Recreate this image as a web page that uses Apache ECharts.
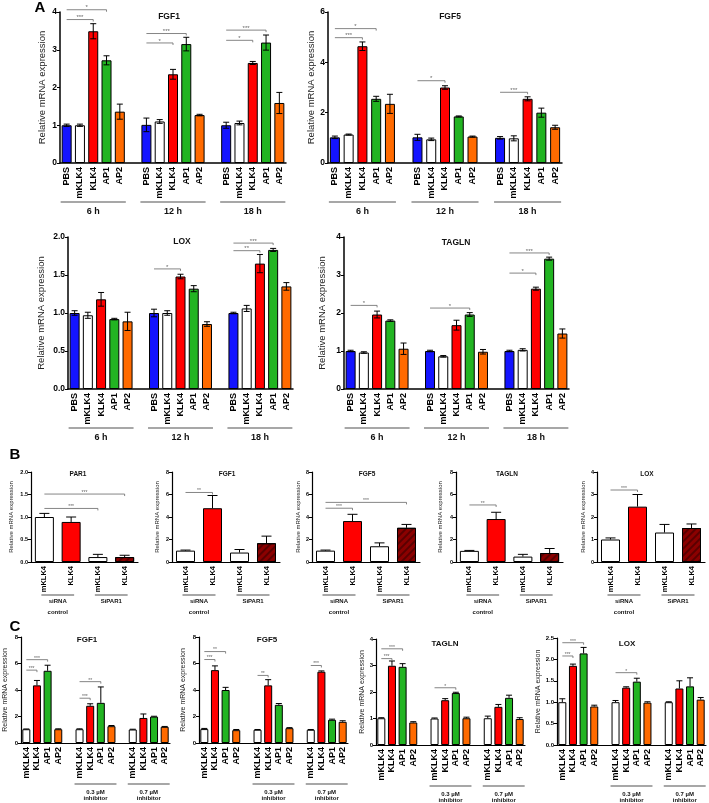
<!DOCTYPE html>
<html><head><meta charset="utf-8">
<script src="https://cdn.jsdelivr.net/npm/echarts@6/dist/echarts.min.js"></script>
<style>html,body{margin:0;padding:0;background:#fff}#c{width:709px;height:803px}</style>
</head><body><div id="c"></div>
<script>
// ---------------- DATA ----------------
const treatA = ['PBS','mKLK4','KLK4','AP1','AP2'];
const timeA = ['6 h','12 h','18 h'];
const colorsA = ['#1414ff','#ffffff','#ff0000','#22b422','#ff6a00'];

const aFGF1    = [1.00,1.00,3.49,2.72,1.36, 1.01,1.10,2.35,3.15,1.27, 1.00,1.06,2.65,3.19,1.59];
const aFGF1Err = [0.03,0.03,0.20,0.12,0.20, 0.18,0.05,0.13,0.18,0.02, 0.08,0.05,0.04,0.20,0.28];
const aFGF5    = [1.02,1.13,4.64,2.55,2.35, 1.02,0.94,3.00,1.85,1.05, 1.00,0.98,2.55,2.00,1.42];
const aFGF5Err = [0.05,0.02,0.17,0.10,0.38, 0.12,0.05,0.07,0.02,0.02, 0.05,0.10,0.08,0.18,0.08];
const aLOX     = [1.00,0.97,1.18,0.92,0.89, 1.00,1.00,1.48,1.32,0.855, 1.00,1.06,1.65,1.83,1.35];
const aLOXErr  = [0.03,0.04,0.09,0.01,0.12, 0.05,0.03,0.03,0.04,0.03, 0.01,0.04,0.12,0.02,0.05];
const aTAGLN   = [1.00,0.96,1.96,1.80,1.06, 1.00,0.86,1.68,1.96,0.98, 1.00,1.03,2.64,3.43,1.46];
const aTAGLNErr= [0.02,0.02,0.09,0.02,0.15, 0.02,0.02,0.13,0.05,0.06, 0.02,0.03,0.04,0.04,0.12];
// significance brackets: [fromIndex, toIndex, height, mark]
const aFGF1Sig  = [[0,3,4.06,'*'],[0,2,3.80,'***'],[5,8,3.43,'***'],[5,7,3.18,'*'],[10,13,3.52,'***'],[10,12,3.25,'*']];
const aFGF5Sig  = [[0,3,5.34,'*'],[0,2,4.98,'***'],[5,7,3.27,'*'],[10,12,2.81,'***']];
const aLOXSig   = [[5,7,1.58,'*'],[10,13,1.92,'***'],[10,12,1.82,'**']];
const aTAGLNSig = [[0,2,2.20,'*'],[5,8,2.13,'*'],[10,13,3.58,'***'],[10,12,3.05,'*']];

const treatB = ['mKLK4','KLK4'];
const groupB = [['siRNA','control'],['SiPAR1']];
const colorsB = ['#ffffff','#ff0000','#ffffff','#8b0000'];
const bPAR1    = [1.00,0.89,0.11,0.11];
const bPAR1Err = [0.08,0.11,0.06,0.04];
const bFGF1    = [1.01,4.78,0.84,1.67];
const bFGF1Err = [0.05,1.13,0.27,0.63];
const bFGF5    = [1.01,3.64,1.40,3.04];
const bFGF5Err = [0.05,0.60,0.30,0.30];
const bTAGLN   = [0.99,3.82,0.48,0.80];
const bTAGLNErr= [0.04,0.60,0.20,0.40];
const bLOX     = [1.00,2.46,1.31,1.51];
const bLOXErr  = [0.07,0.54,0.36,0.18];
const bPAR1Sig  = [[0,3,1.51,'***'],[0,2,1.19,'***']];
const bFGF1Sig  = [[0,1,6.18,'**']];
const bFGF5Sig  = [[0,3,5.30,'***'],[0,1,4.78,'***']];
const bTAGLNSig = [[0,1,5.07,'**']];
const bLOXSig   = [[0,1,3.20,'***']];

const treatC = ['mKLK4','KLK4','AP1','AP2'];
const groupC = [null,['0.3 µM','inhibitor'],['0.7 µM','inhibitor']];
const colorsC = ['#ffffff','#ff0000','#22b422','#ff6a00'];
const cFGF1    = [1.04,4.35,5.45,1.04, 1.04,2.81,3.03,1.27, 1.02,1.89,1.99,1.22];
const cFGF1Err = [0.02,0.37,0.42,0.03, 0.03,0.15,1.20,0.05, 0.02,0.30,0.03,0.03];
const cFGF5    = [1.05,5.50,4.00,0.97, 1.00,4.35,2.88,1.12, 1.00,5.38,1.75,1.60];
const cFGF5Err = [0.05,0.32,0.20,0.05, 0.02,0.43,0.10,0.04, 0.02,0.06,0.05,0.08];
const cTAGLN   = [1.01,2.99,2.95,0.85, 1.00,1.69,1.96,1.01, 1.01,1.44,1.78,0.98];
const cTAGLNErr= [0.02,0.18,0.12,0.03, 0.02,0.06,0.03,0.04, 0.08,0.09,0.10,0.05];
const cLOX     = [1.00,1.85,2.14,0.90, 1.00,1.34,1.48,0.99, 1.00,1.32,1.37,1.06];
const cLOXErr  = [0.08,0.04,0.14,0.03, 0.04,0.02,0.08,0.02, 0.01,0.18,0.20,0.05];
const cFGF1Sig  = [[0,2,6.29,'***'],[0,1,5.50,'***'],[4,6,4.63,'**'],[4,5,3.38,'***']];
const cFGF5Sig  = [[0,2,6.90,'**'],[0,1,6.30,'***'],[4,5,5.10,'**'],[8,9,5.85,'***']];
const cTAGLNSig = [[0,2,3.63,'***'],[0,1,3.26,'***'],[4,6,2.16,'*']];
const cLOXSig   = [[0,2,2.39,'***'],[0,1,2.08,'***'],[4,6,1.69,'*']];

const yLabel = 'Relative mRNA expression';

// ---------------- LAYOUT ----------------
const FF = 'Liberation Sans, Arial, sans-serif';
const styleA = {tick:8.5, xl:9, title:8.5, yn:9.5, grp:9, bw:10, axW:1.5, cap:3, both:true, sig:6, gOff:[39,49], gLH:11, ext:6, spacer:true};
const styleB = {tick:5.5, xl:7.5, title:6.5, yn:6, grp:6, bw:19, axW:1.2, cap:5, both:false, sig:5, gOff:[33,39], gLH:11, ext:3, spacer:false};
const styleC = {tick:6, xl:9, title:8, yn:7, grp:6, bw:8, axW:1.2, cap:3, both:false, sig:5, gOff:[41,49], gLH:6.5, ext:5, spacer:true};

const panels = [
 {st:styleA, vals:aFGF1, errs:aFGF1Err, sig:aFGF1Sig, treat:treatA, groups:timeA.map(t=>[t]), colors:colorsA, title:'FGF1', tpos:[169,17], box:[60,12,286,163], max:4, iv:1, dec:0, gap:13},
 {st:styleA, vals:aFGF5, errs:aFGF5Err, sig:aFGF5Sig, treat:treatA, groups:timeA.map(t=>[t]), colors:colorsA, title:'FGF5', tpos:[450,17], box:[328,12,562,163], max:6, iv:2, dec:0, gap:8},
 {st:styleA, vals:aLOX, errs:aLOXErr, sig:aLOXSig, treat:treatA, groups:timeA.map(t=>[t]), colors:colorsA, title:'LOX', tpos:[182,242], box:[68,237,293,389], max:2, iv:0.5, dec:1, gap:22},
 {st:styleA, vals:aTAGLN, errs:aTAGLNErr, sig:aTAGLNSig, treat:treatA, groups:timeA.map(t=>[t]), colors:colorsA, title:'TAGLN', tpos:[456,243], box:[344,237,569,389], max:4, iv:1, dec:0, gap:17},

 {st:styleB, vals:bPAR1, errs:bPAR1Err, sig:bPAR1Sig, treat:treatB, groups:groupB, colors:colorsB, title:'PAR1', tpos:[78,474], box:[31,472,138,562], max:2, iv:0.5, dec:1, gap:17},
 {st:styleB, vals:bFGF1, errs:bFGF1Err, sig:bFGF1Sig, treat:treatB, groups:groupB, colors:colorsB, title:'FGF1', tpos:[227,474], box:[172,472,280,562], max:8, iv:2, dec:0, gap:12},
 {st:styleB, vals:bFGF5, errs:bFGF5Err, sig:bFGF5Sig, treat:treatB, groups:groupB, colors:colorsB, title:'FGF5', tpos:[367,474], box:[312,472,420,562], max:8, iv:2, dec:0, gap:11},
 {st:styleB, vals:bTAGLN, errs:bTAGLNErr, sig:bTAGLNSig, treat:treatB, groups:groupB, colors:colorsB, title:'TAGLN', tpos:[507,474], box:[456,472,563,562], max:8, iv:2, dec:0, gap:13},
 {st:styleB, vals:bLOX, errs:bLOXErr, sig:bLOXSig, treat:treatB, groups:groupB, colors:colorsB, title:'LOX', tpos:[647,474], box:[597,472,705,562], max:4, iv:1, dec:0, gap:11},

 {st:styleC, vals:cFGF1, errs:cFGF1Err, sig:cFGF1Sig, treat:treatC, groups:groupC, colors:colorsC, title:'FGF1', tpos:[87,640], box:[21,637,170,743], max:8, iv:2, dec:0, gap:12},
 {st:styleC, vals:cFGF5, errs:cFGF5Err, sig:cFGF5Sig, treat:treatC, groups:groupC, colors:colorsC, title:'FGF5', tpos:[267,640], box:[199,637,348,743], max:8, iv:2, dec:0, gap:12},
 {st:styleC, vals:cTAGLN, errs:cTAGLNErr, sig:cTAGLNSig, treat:treatC, groups:groupC, colors:colorsC, title:'TAGLN', tpos:[445,644], box:[376,639,525,745], max:4, iv:1, dec:0, gap:10},
 {st:styleC, vals:cLOX, errs:cLOXErr, sig:cLOXSig, treat:treatC, groups:groupC, colors:colorsC, title:'LOX', tpos:[627,644], box:[557,638,706,745], max:2.5, iv:0.5, dec:1, gap:15}
];

// ---------------- BUILD ----------------
const grid=[], xAxis=[], yAxis=[], series=[], graphic=[];
function errRender(both, cap){
  return function(params, api){
    const x=api.value(0), v=api.value(1), e=api.value(2);
    const t=api.coord([x, v+e]); const b=api.coord([x, both? v-e : v]);
    const s={stroke:'#000', lineWidth:1};
    const ch=[{type:'line', shape:{x1:t[0],y1:t[1],x2:b[0],y2:b[1]}, style:s},
              {type:'line', shape:{x1:t[0]-cap,y1:t[1],x2:t[0]+cap,y2:t[1]}, style:s}];
    if(both) ch.push({type:'line', shape:{x1:b[0]-cap,y1:b[1],x2:b[0]+cap,y2:b[1]}, style:s});
    return {type:'group', children:ch};
  };
}
function sigRender(list, fs){
  return function(params, api){
    const m=list[params.dataIndex][3];
    const p1=api.coord([api.value(0), api.value(2)]), p2=api.coord([api.value(1), api.value(2)]);
    const s={stroke:'#666', lineWidth:0.8};
    return {type:'group', children:[
      {type:'line', shape:{x1:p1[0],y1:p1[1],x2:p2[0],y2:p2[1]}, style:s},
      {type:'line', shape:{x1:p2[0],y1:p2[1],x2:p2[0],y2:p2[1]+2}, style:s},
      {type:'text', x:(p1[0]+p2[0])/2, y:p1[1]+1, style:{text:m, fontSize:fs, fontFamily:FF, fill:'#666', align:'center', verticalAlign:'bottom'}}
    ]};
  };
}
function grpRender(labels, st){
  return function(params, api){
    const lab=labels[params.dataIndex];
    const a=api.coord([api.value(0),0]), b=api.coord([api.value(1),0]);
    const y0=a[1];
    const ch=[{type:'line', shape:{x1:a[0]-st.ext,y1:y0+st.gOff[0],x2:b[0]+st.ext,y2:y0+st.gOff[0]}, style:{stroke:'#8a8a8a', lineWidth:1.5}}];
    lab.forEach((t,k)=>ch.push({type:'text', x:(a[0]+b[0])/2, y:y0+st.gOff[1]+k*st.gLH,
      style:{text:t, fontSize:st.grp, fontWeight:'bold', fontFamily:FF, fill:'#111', align:'center', verticalAlign:'middle'}}));
    return {type:'group', children:ch};
  };
}

panels.forEach((p,pi)=>{
  const st=p.st, n=p.treat.length;
  const nG = p.vals.length/n;
  const cats=[]; const catOf=[];
  for(let g=0; g<nG; g++){
    if(g>0 && st.spacer) cats.push('gap'+g);
    for(let t=0;t<n;t++){ catOf.push(cats.length); cats.push(g+'|'+p.treat[t]); }
  }
  const [x0,y0,x1,y1]=p.box;
  grid.push({left:x0, top:y0, width:x1-x0, height:y1-y0, containLabel:false});
  xAxis.push({type:'category', gridIndex:pi, data:cats, boundaryGap:true,
    axisLine:{lineStyle:{color:'#000', width:st.axW}}, axisTick:{show:false},
    axisLabel:{interval:0, rotate:90, margin:4, fontSize:st.xl, fontWeight:'bold', fontFamily:FF, color:'#000',
      formatter:v=>v.indexOf('|')>=0? v.split('|')[1] : ''}, splitLine:{show:false}});
  yAxis.push({type:'value', gridIndex:pi, min:0, max:p.max, interval:p.iv,
    name:yLabel, nameLocation:'middle', nameGap:p.gap, nameRotate:90,
    nameTextStyle:{fontSize:st.yn, fontFamily:FF, color:'#222'},
    axisLine:{show:true, lineStyle:{color:'#000', width:st.axW}},
    axisTick:{show:true, length:3, lineStyle:{color:'#000', width:1}},
    axisLabel:{fontSize:st.tick, fontWeight:'bold', fontFamily:FF, color:'#000', margin:3,
      formatter:v=>v.toFixed(p.dec)}, splitLine:{show:false}});
  const barData = cats.map(()=>'-');
  p.vals.forEach((v,i)=>{
    const col=p.colors[i % p.colors.length];
    const it={value:v, itemStyle:{color:col, borderColor:'#000', borderWidth:1}};
    if(col==='#8b0000') it.itemStyle.decal={symbol:'rect', symbolSize:1, dashArrayX:[1,0], dashArrayY:[1.5,2.5], rotation:-Math.PI/4, color:'rgba(0,0,0,0.35)'};
    barData[catOf[i]]=it;
  });
  series.push({type:'bar', xAxisIndex:pi, yAxisIndex:pi, barWidth:st.bw, data:barData, z:2, silent:true});
  series.push({type:'custom', xAxisIndex:pi, yAxisIndex:pi, clip:false, z:3, silent:true,
    renderItem:errRender(st.both, st.cap), encode:{x:0, y:1},
    data:p.vals.map((v,i)=>[catOf[i], v, p.errs[i]])});
  series.push({type:'custom', xAxisIndex:pi, yAxisIndex:pi, clip:false, z:3, silent:true,
    renderItem:sigRender(p.sig, st.sig), encode:{x:[0,1], y:2},
    data:p.sig.map(s=>[catOf[s[0]], catOf[s[1]], s[2]])});
  const gl=[], gd=[];
  p.groups.forEach((g,gi)=>{ if(g){ gl.push(g); gd.push([catOf[gi*n], catOf[gi*n+n-1], 0]); } });
  series.push({type:'custom', xAxisIndex:pi, yAxisIndex:pi, clip:false, z:3, silent:true,
    renderItem:grpRender(gl, st), encode:{x:[0,1], y:2}, data:gd});
  graphic.push({type:'text', x:p.tpos[0], y:p.tpos[1], style:{text:p.title, fontSize:st.title, fontWeight:'bold', fontFamily:FF, fill:'#111', align:'center', verticalAlign:'middle'}});
});
[['A',40,8],['B',15,455],['C',15,627]].forEach(l=>graphic.push({type:'text', x:l[1], y:l[2],
  style:{text:l[0], fontSize:15, fontWeight:'bold', fontFamily:FF, fill:'#000', align:'center', verticalAlign:'middle'}}));

const chart = echarts.init(document.getElementById('c'), null, {renderer:'canvas'});
chart.setOption({animation:false, backgroundColor:'#fff', grid, xAxis, yAxis, series, graphic});
</script></body></html>
